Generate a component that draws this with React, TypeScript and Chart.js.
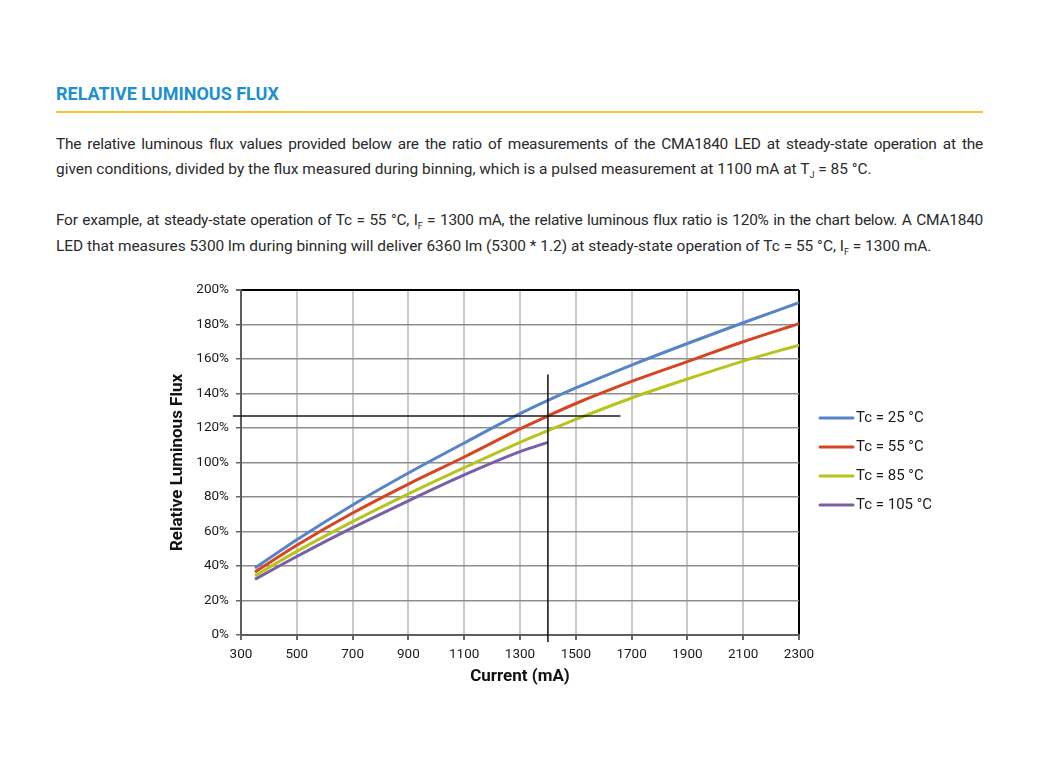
import React, { useEffect, useRef } from 'react';
import { Chart, registerables } from 'chart.js';

Chart.register(...registerables);

// ---- data ----
const currents = [350, 500, 700, 900, 1100, 1300, 1400, 1500, 1700, 1900, 2100, 2300];
const flux25 = [38.8, 55.2, 75.4, 93.9, 111.3, 128.3, 136.0, 143.2, 156.5, 169.0, 181.0, 192.6];
const flux55 = [36.5, 52.0, 70.7, 87.5, 103.2, 119.5, 127.0, 134.2, 147.0, 158.5, 170.0, 180.5];
const flux85 = [34.4, 48.5, 65.7, 81.8, 97.0, 111.7, 118.5, 125.0, 137.4, 148.4, 158.8, 168.0];
const currents105 = [350, 500, 700, 900, 1100, 1300, 1400];
const flux105 = [32.3, 45.5, 62.2, 77.8, 92.8, 106.3, 111.7];
const seriesLabels = ['Tc = 25 °C', 'Tc = 55 °C', 'Tc = 85 °C', 'Tc = 105 °C'];
const seriesColors = ['#5584c8', '#d8441f', '#b6c41b', '#7a5ea8'];
// example reading guide (I = 1400 mA, 127 %)
const guideVX = [1400, 1400];
const guideVY = [-4, 151];
const guideHX = [271, 1660];
const guideHY = [127, 127];
const xMin = 300, xMax = 2300, xStep = 200;
const yMin = 0, yMax = 200, yStep = 20;

const toPts = (xs: number[], ys: number[]) => xs.map((x, i) => ({ x, y: ys[i] }));

const FONT = 'Roboto';

const legendPlugin = {
  id: 'sideLegend',
  afterDraw(chart: any) {
    const { ctx, chartArea } = chart;
    const n = seriesLabels.length;
    const gap = 29;
    const cy = (chartArea.top + chartArea.bottom) / 2;
    const y0 = cy - 1 - ((n - 1) / 2) * gap;
    const x0 = chartArea.right + 21;
    ctx.save();
    ctx.font = `15px ${FONT}`;
    ctx.textBaseline = 'middle';
    ctx.textAlign = 'left';
    for (let i = 0; i < n; i++) {
      const y = y0 + i * gap;
      ctx.strokeStyle = seriesColors[i];
      ctx.lineWidth = 3;
      ctx.lineCap = 'round';
      ctx.beginPath();
      ctx.moveTo(x0, y);
      ctx.lineTo(x0 + 33, y);
      ctx.stroke();
      ctx.fillStyle = '#1a1a1a';
      ctx.fillText(seriesLabels[i], x0 + 36, y + 0.5);
    }
    ctx.restore();
  },
};

function FluxChart() {
  const ref = useRef<HTMLCanvasElement>(null);
  useEffect(() => {
    if (!ref.current) return;
    const curves = [
      toPts(currents, flux25),
      toPts(currents, flux55),
      toPts(currents, flux85),
      toPts(currents105, flux105),
    ];
    const datasets: any[] = curves.map((d, i) => ({
      label: seriesLabels[i],
      data: d,
      borderColor: seriesColors[i],
      backgroundColor: seriesColors[i],
      borderWidth: 3,
      pointRadius: 0,
      cubicInterpolationMode: 'monotone',
      fill: false,
    }));
    datasets.push(
      {
        label: 'guideV',
        data: toPts(guideVX, guideVY),
        borderColor: '#1a1a1a',
        borderWidth: 1.6,
        pointRadius: 0,
        clip: false,
        order: -1,
      },
      {
        label: 'guideH',
        data: toPts(guideHX, guideHY),
        borderColor: '#1a1a1a',
        borderWidth: 1.6,
        pointRadius: 0,
        clip: false,
        order: -1,
      }
    );
    const chart = new Chart(ref.current, {
      type: 'line',
      data: { datasets },
      options: {
        animation: false,
        responsive: false,
        events: [],
        layout: { padding: { top: 20, right: 171, left: 0, bottom: 0 } },
        plugins: { legend: { display: false }, tooltip: { enabled: false } },
        scales: {
          x: {
            type: 'linear',
            min: xMin,
            max: xMax,
            afterFit: (s: any) => { s.height = 65; },
            ticks: {
              stepSize: xStep,
              color: '#1a1a1a',
              font: { family: FONT, size: 13.5 },
              padding: 7,
              maxRotation: 0,
              callback: (v: any) => String(v),
            },
            grid: {
              color: (c: any) => (c.tick && c.tick.value === xMax ? '#000' : '#c9c9c9'),
              lineWidth: 2,
              tickColor: '#666',
              tickLength: 5,
            },
            border: { color: '#5e5e5e', width: 2 },
            title: {
              display: true,
              text: 'Current (mA)',
              color: '#111',
              font: { family: FONT, size: 17, weight: 'bold' },
              padding: { top: 0, bottom: 13 },
            },
          },
          y: {
            min: yMin,
            max: yMax,
            afterFit: (s: any) => { s.width = 91; },
            ticks: {
              stepSize: yStep,
              color: '#1a1a1a',
              font: { family: FONT, size: 13.5 },
              padding: 7,
              callback: (v: any) => `${v}%`,
            },
            grid: {
              color: (c: any) => (c.tick && c.tick.value === yMax ? '#000' : '#8e8e8e'),
              lineWidth: (c: any) => (c.tick && c.tick.value === yMax ? 2 : 1.5),
              tickColor: '#666',
              tickLength: 5,
            },
            border: { color: '#5e5e5e', width: 2 },
            title: {
              display: true,
              text: 'Relative Luminous Flux',
              color: '#111',
              font: { family: FONT, size: 17, weight: 'bold' },
              padding: { top: 18, bottom: 0 },
            },
          },
        },
      },
      plugins: [legendPlugin],
    } as any);
    return () => chart.destroy();
  }, []);
  return <canvas ref={ref} width={820} height={430} style={{ display: 'block' }} />;
}

const textLine: React.CSSProperties = {
  position: 'absolute',
  left: 56,
  width: 927,
  fontFamily: FONT,
  fontSize: 15.45,
  lineHeight: '20px',
  color: '#2a2a2a',
  whiteSpace: 'nowrap',
};
const justified: React.CSSProperties = {
  ...textLine,
  textAlign: 'justify',
  textAlignLast: 'justify' as any,
  letterSpacing: '-0.25px',
};
const sub: React.CSSProperties = { fontSize: 9, verticalAlign: '-4px', lineHeight: 0 };

export default function App() {
  return (
    <div style={{ position: 'absolute', left: 0, top: 0, width: 1041, height: 781, overflow: 'hidden', background: '#fff' }}>
      <div
        style={{
          position: 'absolute',
          left: 56,
          top: 83,
          fontFamily: FONT,
          fontWeight: 700,
          fontSize: 18,
          lineHeight: '22px',
          color: '#1f90cf',
          whiteSpace: 'nowrap',
        }}
      >
        RELATIVE LUMINOUS FLUX
      </div>
      <div style={{ position: 'absolute', left: 56, top: 111, width: 927, height: 2, background: '#f3c62e' }} />
      <div style={{ ...justified, top: 133.5 }}>
        The relative luminous flux values provided below are the ratio of measurements of the CMA1840 LED at steady-state operation at the
      </div>
      <div style={{ ...textLine, top: 158.5 }}>
        given conditions, divided by the flux measured during binning, which is a pulsed measurement at 1100 mA at T<span style={sub}>J</span> = 85 °C.
      </div>
      <div style={{ ...justified, top: 210 }}>
        For example, at steady-state operation of Tc = 55 °C, I<span style={sub}>F</span> = 1300 mA, the relative luminous flux ratio is 120% in the chart below. A CMA1840
      </div>
      <div style={{ ...textLine, top: 236 }}>
        LED that measures 5300 lm during binning will deliver 6360 lm (5300 * 1.2) at steady-state operation of Tc = 55 °C, I<span style={sub}>F</span> = 1300 mA.
      </div>
      <div style={{ position: 'absolute', left: 150, top: 270, width: 820, height: 430 }}>
        <FluxChart />
      </div>
    </div>
  );
}
